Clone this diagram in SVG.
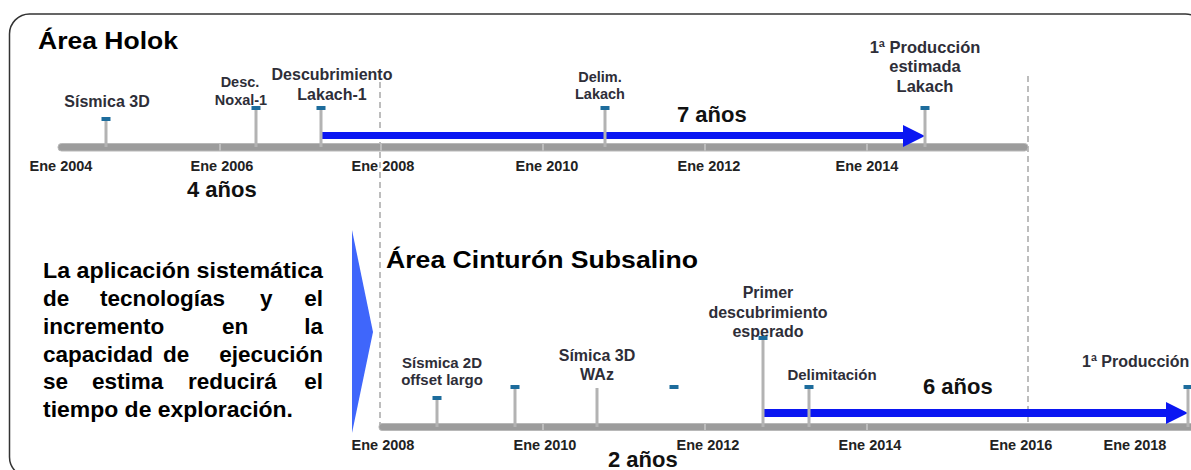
<svg xmlns="http://www.w3.org/2000/svg" width="1191" height="470" viewBox="0 0 1191 470">
<style>
text{font-family:"Liberation Sans",Arial,sans-serif;font-weight:bold;}
.lbl{fill:#2e2e38;font-size:16px;text-anchor:middle;}
.ax{fill:#222;font-size:14.5px;text-anchor:middle;}
.big{fill:#111;font-size:22px;}
.title{fill:#000;font-size:24px;}
.para{fill:#000;font-size:22.5px;}
.stem{stroke:#b3b3b3;stroke-width:3;}
.cap{fill:#1d6c9c;}
.bar{fill:#9c9c9c;stroke:#b8b8b8;stroke-width:1;}
.tick{stroke:#c9c9c9;stroke-width:1.5;}
.dash{stroke:#a8a8a8;stroke-width:1.5;stroke-dasharray:6 4;fill:none;}
.arrow{fill:#0a16f2;}
</style>
<rect x="9.5" y="14" width="1196" height="463" rx="20" fill="#fff" stroke="#333" stroke-width="1.5"/>

<g id="connectors">
  <line class="dash" x1="380" y1="82" x2="380" y2="427"/>
  <line class="dash" x1="1028" y1="76" x2="1028" y2="427"/>
</g>

<g id="timeline-holok">
  <rect class="bar" x="58" y="143.5" width="970" height="7.5" rx="3.5"/>
  <line class="tick" x1="220" y1="144" x2="220" y2="150.5"/>
  <line class="tick" x1="381" y1="144" x2="381" y2="150.5"/>
  <line class="tick" x1="543" y1="144" x2="543" y2="150.5"/>
  <line class="tick" x1="705" y1="144" x2="705" y2="150.5"/>
  <line class="tick" x1="867" y1="144" x2="867" y2="150.5"/>
  <text class="ax" x="61" y="171">Ene 2004</text>
  <text class="ax" x="222" y="171">Ene 2006</text>
  <text class="ax" x="383" y="171">Ene 2008</text>
  <text class="ax" x="547" y="171">Ene 2010</text>
  <text class="ax" x="709" y="171">Ene 2012</text>
  <text class="ax" x="867" y="171">Ene 2014</text>
</g>

<g id="holok-arrow">
  <polygon class="arrow" points="320,132 903,132 903,125 925,136 903,147 903,139 320,139"/>
</g>

<g id="ev-sismica3d">
  <line class="stem" x1="106" y1="120" x2="106" y2="147"/>
  <rect class="cap" x="101.5" y="117" width="9" height="4"/>
  <text class="lbl" x="107" y="107">Sísmica 3D</text>
</g>
<g id="ev-noxal">
  <line class="stem" x1="256" y1="108" x2="256" y2="147"/>
  <rect class="cap" x="251.5" y="106" width="9" height="4"/>
  <text class="lbl" x="240" y="87" style="font-size:14.5px">Desc.</text>
  <text class="lbl" x="241" y="105" style="font-size:14.5px">Noxal-1</text>
</g>
<g id="ev-lakach1">
  <line class="stem" x1="321" y1="108" x2="321" y2="147"/>
  <rect class="cap" x="316.5" y="106" width="9" height="4"/>
  <text class="lbl" x="332" y="80">Descubrimiento</text>
  <text class="lbl" x="332" y="100">Lakach-1</text>
</g>
<g id="ev-delim">
  <line class="stem" x1="605" y1="108" x2="605" y2="147"/>
  <rect class="cap" x="600.5" y="106" width="9" height="4"/>
  <text class="lbl" x="600" y="82" style="font-size:14.5px">Delim.</text>
  <text class="lbl" x="600" y="99" style="font-size:14.5px">Lakach</text>
</g>
<g id="ev-prod-holok">
  <line class="stem" x1="925" y1="108" x2="925" y2="147"/>
  <rect class="cap" x="920.5" y="106" width="9" height="4"/>
  <text class="lbl" x="925" y="53" style="font-size:16.5px">1ª Producción</text>
  <text class="lbl" x="925" y="72" style="font-size:16.5px">estimada</text>
  <text class="lbl" x="925" y="92" style="font-size:16.5px">Lakach</text>
</g>

<g id="title-holok"><text class="title" x="38" y="49" textLength="140" lengthAdjust="spacingAndGlyphs">Área Holok</text></g>
<g id="lbl-7anos"><text class="big" x="677" y="122">7 años</text></g>
<g id="lbl-4anos"><text class="big" x="187" y="197">4 años</text></g>

<g id="paragraph" class="para">
  <text x="43" y="278" textLength="280" lengthAdjust="spacingAndGlyphs">La aplicación sistemática</text>
  <text x="43" y="306">de</text><text x="100" y="306">tecnologías</text><text x="260" y="306">y</text><text x="323" y="306" text-anchor="end">el</text>
  <text x="43" y="334">incremento</text><text x="222" y="334">en</text><text x="323" y="334" text-anchor="end">la</text>
  <text x="43" y="362">capacidad</text><text x="163" y="362">de</text><text x="323" y="362" text-anchor="end">ejecución</text>
  <text x="43" y="389">se</text><text x="92" y="389">estima</text><text x="188" y="389">reducirá</text><text x="323" y="389" text-anchor="end">el</text>
  <text x="43" y="417" textLength="250" lengthAdjust="spacingAndGlyphs">tiempo de exploración.</text>
</g>

<g id="triangle"><polygon points="352,230 373,332 352,433" fill="#3f66fb"/></g>

<g id="title-subsalino"><text class="title" x="386" y="268" textLength="312" lengthAdjust="spacingAndGlyphs">Área Cinturón Subsalino</text></g>

<g id="timeline-subsalino">
  <rect class="bar" x="379" y="423.5" width="816" height="7" rx="3"/>
  <line class="tick" x1="543" y1="424" x2="543" y2="430"/>
  <line class="tick" x1="705" y1="424" x2="705" y2="430"/>
  <line class="tick" x1="867" y1="424" x2="867" y2="430"/>
  <text class="ax" x="383" y="450">Ene 2008</text>
  <text class="ax" x="545" y="450">Ene 2010</text>
  <text class="ax" x="708" y="450">Ene 2012</text>
  <text class="ax" x="870" y="450">Ene 2014</text>
  <text class="ax" x="1021" y="450">Ene 2016</text>
  <text class="ax" x="1135" y="450">Ene 2018</text>
</g>

<g id="subsalino-arrow">
  <polygon class="arrow" points="763,409 1166,409 1166,402 1188,413 1166,424 1166,417 763,417"/>
</g>

<g id="ev-sismica2d">
  <line class="stem" x1="437" y1="399" x2="437" y2="427"/>
  <rect class="cap" x="432.5" y="396" width="9" height="4"/>
  <text class="lbl" x="442" y="368" style="font-size:15px">Sísmica 2D</text>
  <text class="lbl" x="442" y="385" style="font-size:15px">offset largo</text>
</g>
<g id="ev-2009">
  <line class="stem" x1="515" y1="388" x2="515" y2="427"/>
  <rect class="cap" x="510.5" y="385" width="9" height="4"/>
</g>
<g id="ev-waz">
  <line class="stem" x1="597" y1="388" x2="597" y2="427"/>
  <text class="lbl" x="597" y="361">Símica 3D</text>
  <text class="lbl" x="597" y="380">WAz</text>
</g>
<g id="ev-2011">
  <rect class="cap" x="669.5" y="385" width="9" height="4"/>
</g>
<g id="ev-primer">
  <line class="stem" x1="763" y1="339" x2="763" y2="427"/>
  <text class="lbl" x="768" y="298">Primer</text>
  <text class="lbl" x="768" y="318">descubrimiento</text>
  <text class="lbl" x="768" y="337">esperado</text>
  <rect class="cap" x="758.5" y="336" width="9" height="4"/>
</g>
<g id="ev-delimitacion">
  <line class="stem" x1="809" y1="388" x2="809" y2="427"/>
  <rect class="cap" x="804.5" y="385" width="9" height="4"/>
  <text class="lbl" x="832" y="380" style="font-size:15px">Delimitación</text>
</g>
<g id="ev-prod-sub">
  <line class="stem" x1="1188" y1="388" x2="1188" y2="427"/>
  <rect class="cap" x="1183.5" y="385" width="9" height="4"/>
  <text class="lbl" x="1082" y="367" style="text-anchor:start">1ª Producción</text>
</g>

<g id="lbl-6anos"><text class="big" x="923" y="394">6 años</text></g>
<g id="lbl-2anos"><text class="big" x="608" y="467">2 años</text></g>
</svg>
